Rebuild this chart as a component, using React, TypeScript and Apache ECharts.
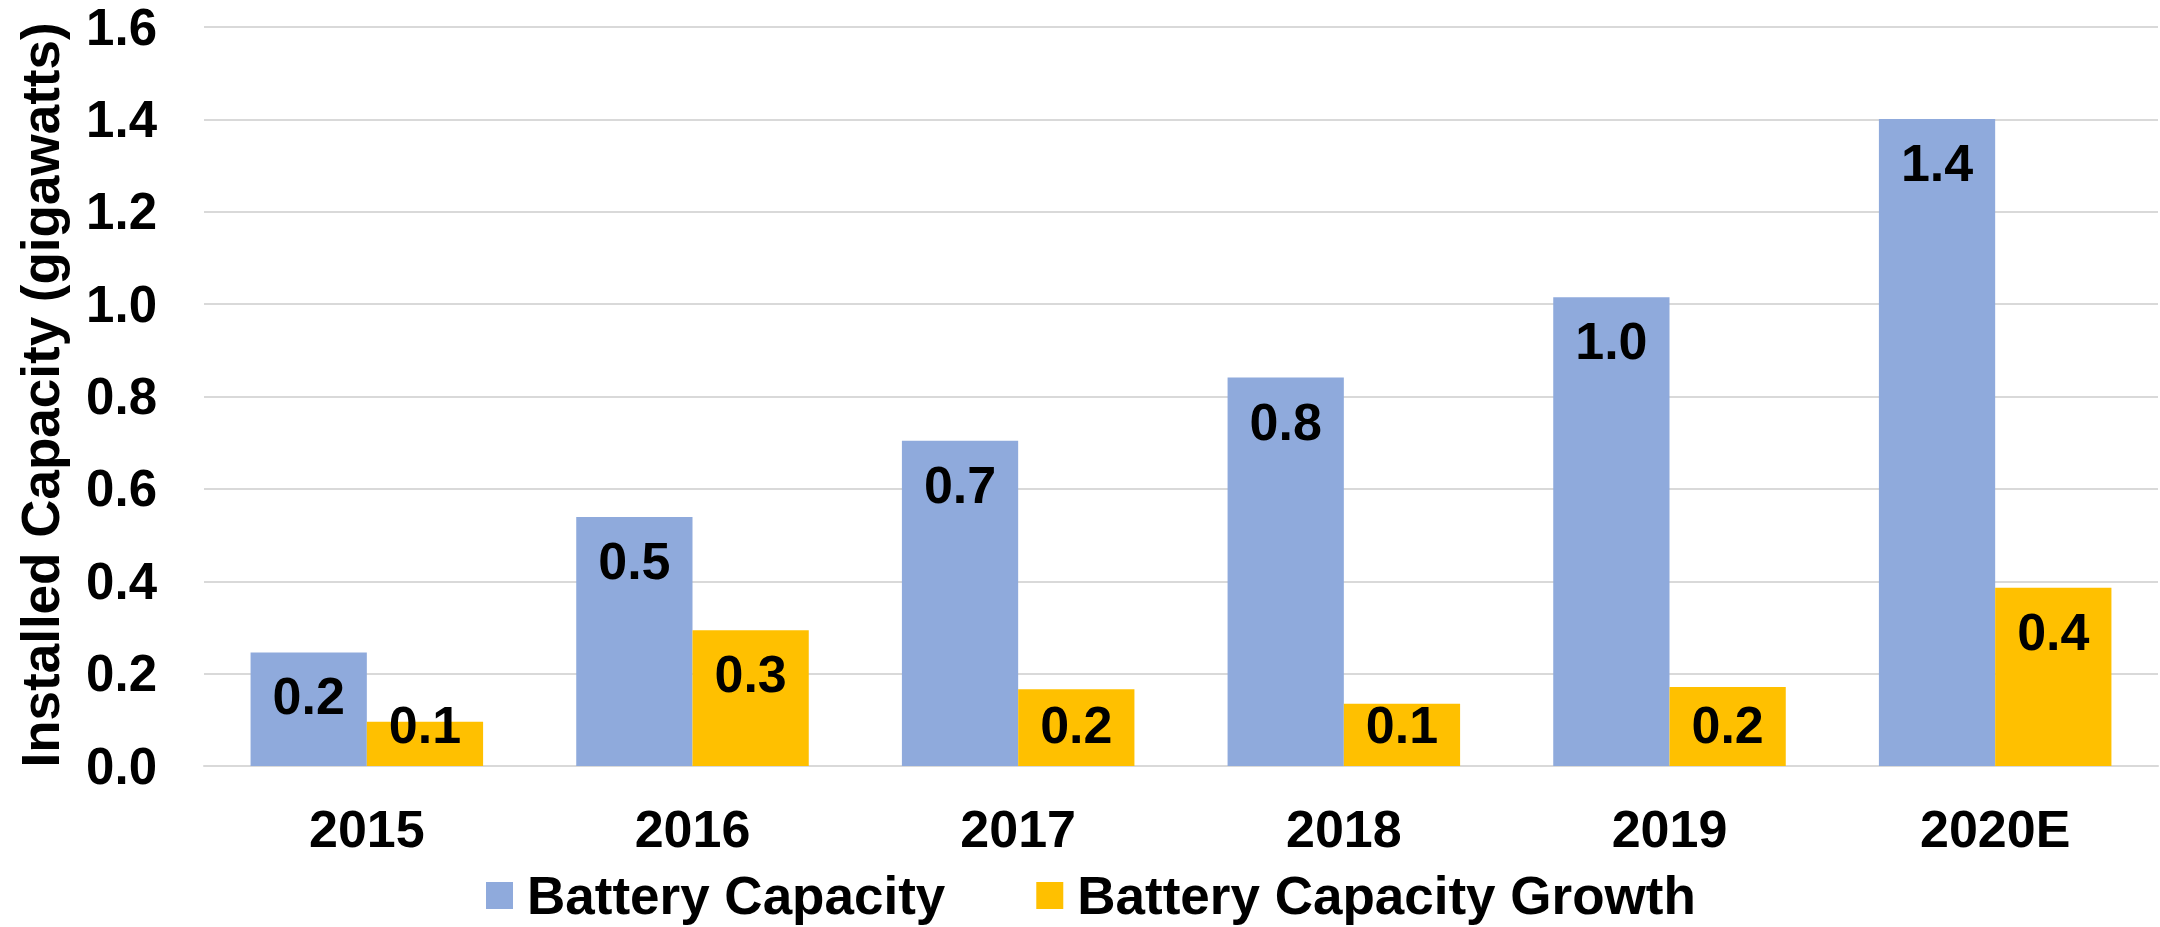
import React, { useEffect, useRef } from "react";
import * as echarts from "echarts";

const categories = ["2015", "2016", "2017", "2018", "2019", "2020E"];
const batteryCapacity = [0.246, 0.539, 0.704, 0.841, 1.015, 1.401];
const batteryCapacityGrowth = [0.096, 0.294, 0.166, 0.135, 0.171, 0.386];
const seriesNames = ["Battery Capacity", "Battery Capacity Growth"];
const yTitle = "Installed Capacity (gigawatts)";
const yMin = 0;
const yMax = 1.6;
const yInterval = 0.2;

const FONT = "'Liberation Sans', Arial, Helvetica, sans-serif";
const BLUE = "#8FAADC";
const GOLD = "#FFC000";
const GRID = "#D9D9D9";

function buildData(values: number[]) {
  // Short bars: the label sits against the base (as in the source), otherwise inside top
  return values.map((v) => ({
    value: v,
    label:
      v < 0.184
        ? { position: "insideBottom", distance: 15 }
        : { position: "insideTop", distance: 18 },
  }));
}

export default function App() {
  const ref = useRef<HTMLDivElement>(null);
  useEffect(() => {
    if (!ref.current) return;
    const chart = echarts.init(ref.current, null, { renderer: "svg" });
    const labelStyle = {
      show: true,
      color: "#000",
      fontFamily: FONT,
      fontWeight: "bold",
      fontSize: 52,
      formatter: (p: any) => Number(p.value).toFixed(1),
    };
    chart.setOption({
      animation: false,
      backgroundColor: "#fff",
      textStyle: { fontFamily: FONT },
      grid: { left: 204, right: 2, top: 27, bottom: 161, containLabel: false },
      legend: {
        left: 486,
        top: 869,
        padding: 0,
        itemWidth: 27,
        itemHeight: 27,
        itemGap: 91,
        icon: "rect",
        data: seriesNames,
        textStyle: {
          color: "#000",
          fontFamily: FONT,
          fontWeight: "bold",
          fontSize: 53,
          lineHeight: 40,
          padding: [0, 0, 0, 9],
        },
      },
      xAxis: {
        type: "category",
        data: categories,
        axisLine: { show: true, lineStyle: { color: GRID, width: 2 } },
        axisTick: { show: false },
        axisLabel: {
          color: "#000",
          fontFamily: FONT,
          fontWeight: "bold",
          fontSize: 52,
          margin: 37,
        },
      },
      yAxis: {
        type: "value",
        min: yMin,
        max: yMax,
        interval: yInterval,
        axisLine: { show: false },
        axisTick: { show: false },
        splitLine: { lineStyle: { color: GRID, width: 2 } },
        axisLabel: {
          color: "#000",
          fontFamily: FONT,
          fontWeight: "bold",
          fontSize: 51,
          margin: 47,
          formatter: (v: number) => v.toFixed(1),
        },
      },
      graphic: [
        {
          type: "text",
          x: 40,
          y: 395,
          rotation: Math.PI / 2,
          style: {
            text: yTitle,
            fill: "#000",
            fontFamily: FONT,
            fontWeight: "bold",
            fontSize: 53,
            align: "center",
            verticalAlign: "middle",
          },
        },
      ],
      series: [
        {
          name: seriesNames[0],
          type: "bar",
          data: buildData(batteryCapacity),
          itemStyle: { color: BLUE },
          barGap: "0%",
          barCategoryGap: "28.6%",
          label: labelStyle,
        },
        {
          name: seriesNames[1],
          type: "bar",
          data: buildData(batteryCapacityGrowth),
          itemStyle: { color: GOLD },
          barGap: "0%",
          barCategoryGap: "28.6%",
          label: labelStyle,
        },
      ],
    });
    return () => chart.dispose();
  }, []);
  return (
    <div
      ref={ref}
      style={{ position: "fixed", left: 0, top: 0, width: 2160, height: 927, background: "#fff" }}
    />
  );
}
